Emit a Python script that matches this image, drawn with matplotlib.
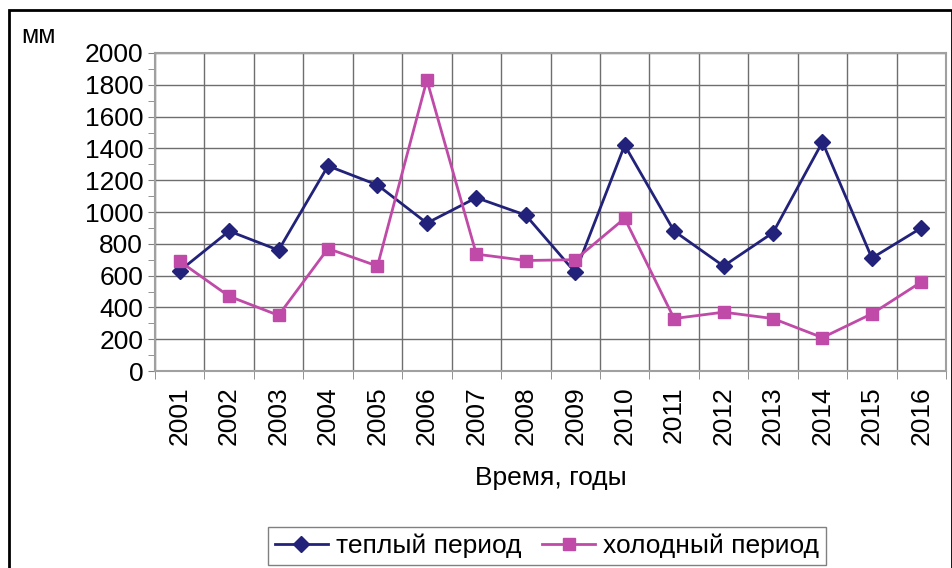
import matplotlib.pyplot as plt
from matplotlib.patches import Rectangle
from matplotlib.ticker import MultipleLocator

plt.rcParams['font.family'] = ['Liberation Sans', 'DejaVu Sans']

years = ['2001', '2002', '2003', '2004', '2005', '2006', '2007', '2008',
         '2009', '2010', '2011', '2012', '2013', '2014', '2015', '2016']
warm = [630, 880, 760, 1290, 1170, 930, 1090, 980,
        620, 1420, 880, 660, 870, 1440, 710, 900]
cold = [690, 470, 350, 770, 660, 1830, 735, 695,
        700, 960, 330, 370, 330, 210, 360, 560]

blue = '#22227a'
pink = '#c04aa8'

fig = plt.figure(figsize=(9.53, 5.68), dpi=100)
ax = fig.add_axes([0.1626, 0.3468, 0.8301, 0.5599])

x = range(len(years))
ax.plot(x, warm, color=blue, marker='D', markersize=8, lw=2, label='теплый период')
ax.plot(x, cold, color=pink, marker='s', markersize=8, lw=2, label='холодный период')

ax.set_xlim(-0.5, len(years) - 0.5)
ax.set_ylim(0, 2000)
ax.set_xticks(list(x))
ax.set_xticklabels(years, rotation=90, fontsize=19)
ax.xaxis.set_minor_locator(MultipleLocator(1, offset=0.5))
ax.yaxis.set_major_locator(MultipleLocator(200))
ax.yaxis.set_minor_locator(MultipleLocator(100))
ax.tick_params(axis='x', which='major', length=0, pad=11)
ax.tick_params(axis='x', which='minor', length=6, color='#808080')
ax.tick_params(axis='y', which='both', length=5, color='#808080', labelsize=19)
ax.grid(True, axis='y', which='major', color='#6e6e6e', lw=1)
ax.grid(True, axis='x', which='minor', color='#6e6e6e', lw=1)
ax.set_axisbelow(True)
for s in ax.spines.values():
    s.set_color('#a0a0a0')
    s.set_linewidth(1.5)

ax.set_xlabel('Время, годы', fontsize=19)
ax.xaxis.set_label_coords(0.5, -0.30)
fig.text(0.022, 0.915, 'мм', fontsize=18, ha='left', va='bottom')

fig.legend(loc='center', bbox_to_anchor=(0.574, 0.039), ncol=2, fontsize=19,
           frameon=True, fancybox=False, edgecolor='#808080', framealpha=1,
           handlelength=2.0, handletextpad=0.3, columnspacing=0.8,
           borderpad=0.25, borderaxespad=0)

fig.add_artist(Rectangle((0.009, -0.05), 0.99, 1.0325, transform=fig.transFigure,
                         fill=False, edgecolor='black', lw=2))

fig.savefig('out.png', dpi=100)
